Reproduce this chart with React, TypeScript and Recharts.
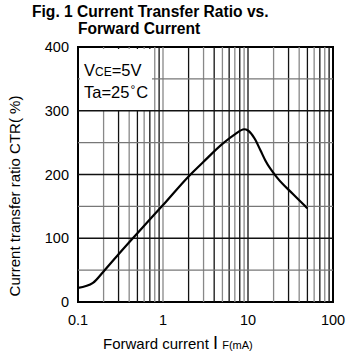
import { LineChart, Line, XAxis, YAxis, ReferenceLine, ReferenceArea } from 'recharts';

const forwardCurrent = [0.1, 0.15, 0.2, 0.3, 0.5, 1, 2, 3, 5, 7, 9, 10, 12, 14, 16, 22, 34, 50];
const ctrValues = [22, 30, 48, 75, 108, 152, 197, 220, 248, 263, 271, 269, 256, 238, 222, 195, 169, 147];

const xGrid = [0.2, 0.3, 0.4, 0.5, 0.6, 0.7, 0.8, 0.9, 1, 2, 3, 4, 5, 6, 7, 8, 9, 10, 20, 30, 40, 50, 60, 70, 80, 90];
const xLabels = [0.1, 1, 10, 100];
const yGrid = [50, 100, 150, 200, 250, 300, 350];
const yLabels = [0, 100, 200, 300, 400];

const data = forwardCurrent.map((f, i) => ({ f, ctr: ctrValues[i] }));

const FONT = '"Liberation Sans", Arial, sans-serif';

export default function App() {
  return (
    <div style={{ position: 'absolute', left: 0, top: 0, width: 352, height: 360, background: '#fff', fontFamily: FONT, color: '#000' }}>
      <div style={{ position: 'absolute', left: 32, top: 3, fontSize: 15.6, fontWeight: 'bold', lineHeight: '17px', whiteSpace: 'nowrap' }}>
        Fig. 1 Current Transfer Ratio vs.
        <br />
        <span style={{ marginLeft: 46 }}>Forward Current</span>
      </div>

      <LineChart width={352} height={360} data={data} margin={{ top: 47, right: 19, bottom: 28, left: 38 }} style={{ position: 'absolute', left: 0, top: 0 }}>
        <XAxis
          dataKey="f"
          type="number"
          scale="log"
          domain={[0.1, 100]}
          ticks={xLabels}
          tickFormatter={(v) => String(v)}
          allowDataOverflow
          axisLine={false}
          tickLine={false}
          height={30}
          tickMargin={7}
          tick={{ fill: '#000', fontSize: 14.5, fontFamily: FONT }}
        />
        <YAxis
          type="number"
          domain={[0, 400]}
          ticks={yLabels}
          axisLine={false}
          tickLine={false}
          width={40}
          tickMargin={3}
          tick={{ fill: '#000', fontSize: 14.5, fontFamily: FONT }}
        />
        {xGrid.map((v, i) => (
          <ReferenceLine key={'x' + v} x={v} stroke={i % 2 === 0 ? '#888' : '#111'} strokeWidth={1.3} />
        ))}
        {yGrid.map((v) => (
          <ReferenceLine key={'y' + v} y={v} stroke={v % 100 === 0 ? '#111' : '#777'} strokeWidth={1.3} />
        ))}
        <ReferenceArea x1={0.1} x2={100} y1={0} y2={400} fill="none" stroke="#000" strokeWidth={2} />
        <Line dataKey="ctr" type="monotone" stroke="#000" strokeWidth={2.2} dot={false} isAnimationActive={false} />
      </LineChart>

      {/* condition box masks the grid in the upper-left corner */}
      <div style={{ position: 'absolute', left: 80, top: 49, width: 72, height: 61, background: '#fff' }} />
      <div style={{ position: 'absolute', left: 84, top: 60, fontSize: 16.5, lineHeight: '20px' }}>
        <div>V<span style={{ fontSize: 12 }}>CE</span>=5V</div>
        <div>Ta=25<span style={{ fontSize: 12, position: 'relative', top: -4, margin: '0 1px' }}>&deg;</span>C</div>
      </div>

      <div style={{ position: 'absolute', left: 103, top: 333, fontSize: 15, whiteSpace: 'nowrap' }}>
        Forward current <span style={{ fontSize: 18 }}>I</span> <span style={{ fontSize: 11 }}>F(mA)</span>
      </div>

      <div style={{ position: 'absolute', left: 14, top: 196, transform: 'translate(-50%, -50%) rotate(-90deg)', fontSize: 15, whiteSpace: 'nowrap' }}>
        Current transfer ratio CTR( %)
      </div>
    </div>
  );
}
